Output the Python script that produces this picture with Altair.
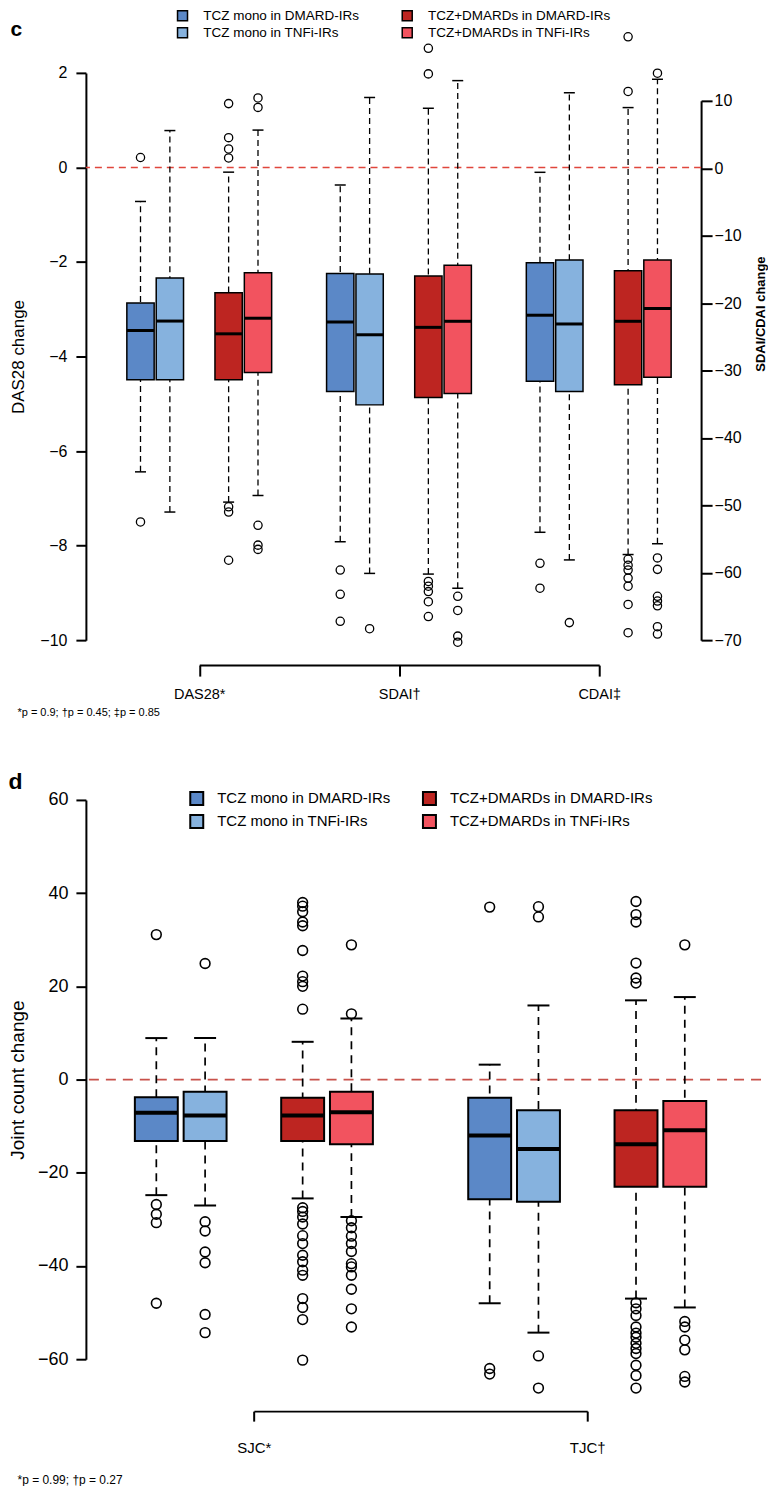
import altair as alt
import pandas as pd

# ---------------- data ----------------
GROUPS = ["TCZ mono in DMARD-IRs", "TCZ mono in TNFi-IRs",
          "TCZ+DMARDs in DMARD-IRs", "TCZ+DMARDs in TNFi-IRs"]
GROUP_COLORS = ["#5B88C7", "#86B2DE", "#BD2521", "#F2535F"]
SLOTS = [GROUPS[0], GROUPS[1], "gap", GROUPS[2], GROUPS[3]]

# panel c  (DAS28 on left axis, SDAI / CDAI on right axis)
C_METRICS = ["DAS28", "SDAI", "CDAI"]
C_BRACKET = ["DAS28*", "SDAI\u2020", "CDAI\u2021"]
C_WLO = [-6.44, -7.29, -7.08, -6.94, -55.4, -60.1, -60.2, -62.3, -54.0, -58.1, -57.3, -55.7]
C_Q1 = [-4.49, -4.49, -4.49, -4.34, -33.1, -35.1, -34.0, -33.4, -31.6, -33.1, -32.1, -31.0]
C_MED = [-3.45, -3.25, -3.52, -3.19, -22.8, -24.7, -23.6, -22.7, -21.8, -23.1, -22.7, -20.8]
C_Q3 = [-2.87, -2.34, -2.65, -2.23, -15.6, -15.7, -16.0, -14.4, -14.0, -13.6, -15.2, -13.6]
C_WHI = [-0.72, 0.78, -0.10, 0.79, -2.5, 10.5, 8.9, 13.0, -0.6, 11.2, 9.0, 13.2]
C_OUT = [
    [0.21, -7.5], [], [1.35, 0.63, 0.39, 0.2, -7.18, -7.29, -8.31], [1.47, 1.27, -7.57, -7.99, -8.08],
    [-59.6, -63.2, -67.2], [-68.3], [17.8, 14.0, -61.3, -62.0, -62.8, -64.3, -66.5], [-63.5, -65.6, -69.4, -70.3],
    [-58.6, -62.3], [-67.4], [19.5, 11.4, -58.0, -58.9, -59.6, -60.8, -62.0, -64.7, -68.9],
    [14.1, -57.8, -59.5, -63.5, -64.2, -64.9, -68.0, -69.1],
]
C_LEFT_TICKS = [-10, -8, -6, -4, -2, 0, 2]
C_RIGHT_TICKS = [-70, -60, -50, -40, -30, -20, -10, 0, 10]
C_FOOT = "*p = 0.9; \u2020p = 0.45; \u2021p = 0.85"

# panel d
D_METRICS = ["SJC", "TJC"]
D_BRACKET = ["SJC*", "TJC\u2020"]
D_WLO = [-24.8, -27.0, -25.5, -29.5, -48.0, -54.3, -47.0, -48.9]
D_Q1 = [-13.2, -13.2, -13.2, -13.9, -25.7, -26.2, -23.0, -23.0]
D_MED = [-7.1, -7.7, -7.7, -7.0, -12.0, -14.9, -13.9, -10.9]
D_Q3 = [-3.8, -2.6, -3.9, -2.6, -3.9, -6.6, -6.6, -4.6]
D_WHI = [8.9, 8.9, 8.1, 13.1, 3.2, 15.9, 17.0, 17.7]
D_OUT = [
    [31.1, -26.8, -28.9, -30.7, -48.0],
    [24.9, -30.5, -32.5, -37.0, -39.3, -50.4, -54.3],
    [38.0, 37.2, 36.0, 33.8, 33.0, 27.7, 22.2, 21.0, 20.0, 15.1,
     -27.5, -28.3, -29.5, -31.0, -33.5, -35.2, -37.7, -39.1, -40.9, -42.0, -47.0, -48.9, -51.5, -60.2],
    [28.9, 14.1, -30.3, -31.8, -33.6, -35.2, -36.9, -39.5, -40.2, -42.0, -45.0, -49.2, -53.1],
    [37.0, -62.0, -63.2],
    [37.1, 34.9, -59.3, -66.2],
    [38.2, 35.4, 33.8, 25.0, 21.8, 20.7,
     -47.9, -49.2, -50.6, -53.1, -54.4, -55.3, -56.6, -57.7, -58.8, -61.3, -63.5, -66.2],
    [28.9, -51.9, -53.1, -55.9, -58.0, -63.7, -64.9],
]
D_TICKS = [-60, -40, -20, 0, 20, 40, 60]
D_FOOT = "*p = 0.99; \u2020p = 0.27"

ZERO = [0]
FONT = "Liberation Sans"


def stats_frame(metrics, wlo, q1, med, q3, whi):
    rows = []
    for i, m in enumerate(metrics):
        for j, g in enumerate(GROUPS):
            k = i * 4 + j
            rows.append(dict(metric=m, group=g, wlo=wlo[k], q1=q1[k], med=med[k], q3=q3[k], whi=whi[k]))
    return pd.DataFrame(rows)


def outlier_frame(metrics, outs):
    rows = []
    for i, m in enumerate(metrics):
        for j, g in enumerate(GROUPS):
            for v in outs[i * 4 + j]:
                rows.append(dict(metric=m, group=g, value=v))
    return pd.DataFrame(rows)


def box_layers(stats, outs, x, xo, yscale, yaxis, fill, st):
    def Y(f):
        return alt.Y(f, type="quantitative", scale=yscale, axis=yaxis)

    base = alt.Chart(stats)
    whisk = base.mark_rule(color="black", strokeWidth=st["wl"], strokeDash=st["dash"]).encode(
        x=x, xOffset=xo, y=Y("wlo"), y2=alt.Y2("whi"))
    cap_hi = base.mark_tick(color="black", size=st["cap"], thickness=st["capw"], opacity=1).encode(
        x=x, xOffset=xo, y=Y("whi"))
    cap_lo = base.mark_tick(color="black", size=st["cap"], thickness=st["capw"], opacity=1).encode(
        x=x, xOffset=xo, y=Y("wlo"))
    box = base.mark_bar(stroke="black", strokeWidth=st["bw"], opacity=1).encode(
        x=x, xOffset=xo, y=Y("q3"), y2=alt.Y2("q1"), fill=fill)
    med = base.mark_tick(color="black", size=st["medw"], thickness=st["medt"], opacity=1).encode(
        x=x, xOffset=xo, y=Y("med"))
    pts = alt.Chart(outs).mark_point(shape="circle", filled=False, color="black", size=st["ps"],
                                     strokeWidth=st["pw"], opacity=1).encode(
        x=x, xOffset=xo, y=Y("value"))
    return [whisk, cap_hi, cap_lo, box, med, pts]


color_scale = alt.Scale(domain=GROUPS, range=GROUP_COLORS)

# ---------------- panel c ----------------
st_c = dict(wl=1.3, dash=[6, 4], cap=11, capw=1.5, bw=1.5, medw=27, medt=3, ps=68, pw=1.3)

legend_c = alt.Legend(title=None, orient="none", legendX=90, legendY=-64, columns=2,
                      columnPadding=39, rowPadding=0, symbolType="square", symbolSize=100,
                      symbolStrokeColor="black", symbolStrokeWidth=1.5, labelFontSize=13.5,
                      labelFont=FONT, labelOffset=14, labelLimit=400, padding=0)
fill_c = alt.Fill("group:N", scale=color_scale, legend=legend_c)

xo_c = alt.XOffset("group:N", scale=alt.Scale(domain=SLOTS, paddingInner=0.07, paddingOuter=0))
xscale_c = alt.Scale(type="band", domain=C_METRICS, range=[13.5, 613.5], paddingInner=0.275, paddingOuter=0.1375)
xA = alt.X("metric:N", scale=xscale_c,
           axis=alt.Axis(orient="top", labels=False, ticks=False, domain=False, title="c",
                         titleX=-76, titleY=-37, titleAlign="left", titleBaseline="alphabetic",
                         titleFontSize=21, titleFontWeight="bold", titleAngle=0))
xB = alt.X("metric:N", scale=xscale_c, axis=None)

yL_scale = alt.Scale(domain=[-10, 2], nice=False, zero=False)
yL_axis = alt.Axis(orient="left", values=C_LEFT_TICKS, title="DAS28 change", titleFontSize=17,
                   titleFontWeight="normal", labelFontSize=16, tickSize=10, tickWidth=2, domainWidth=2,
                   labelPadding=9, titlePadding=12, grid=False)
yR_scale = alt.Scale(domain=[-70, 10], range=[568, 28], nice=False, zero=False)
yR_axis = alt.Axis(orient="right", values=C_RIGHT_TICKS, title="SDAI/CDAI change", titleFontSize=13,
                   titleFontWeight="bold", titleAngle=-90, titleBaseline="top", titleAlign="center",
                   titleY=241, labelFontSize=16, tickSize=11, tickWidth=2, domainWidth=2,
                   labelPadding=2, titlePadding=13, grid=False)

stats_c = stats_frame(C_METRICS, C_WLO, C_Q1, C_MED, C_Q3, C_WHI)
outs_c = outlier_frame(C_METRICS, C_OUT)

zero_c = alt.Chart(pd.DataFrame({"z": ZERO})).mark_rule(
    color="#E0463C", strokeDash=[7, 5], strokeWidth=1.4).encode(
    y=alt.Y("z:Q", scale=yL_scale, axis=yL_axis))

layer_A = alt.layer(zero_c, *box_layers(stats_c[stats_c.metric == "DAS28"], outs_c[outs_c.metric == "DAS28"],
                                        xA, xo_c, yL_scale, yL_axis, fill_c, st_c))
layer_B = alt.layer(*box_layers(stats_c[stats_c.metric != "DAS28"], outs_c[outs_c.metric != "DAS28"],
                                xB, xo_c, yR_scale, yR_axis, fill_c, st_c))

bracket_c = alt.Chart(pd.DataFrame({"label": C_BRACKET})).mark_point(opacity=0).encode(
    x=alt.X("label:N",
            scale=alt.Scale(type="point", domain=C_BRACKET, range=[113.5, 514], padding=0),
            axis=alt.Axis(orient="bottom", offset=25, domainWidth=2, tickSize=11, tickWidth=2,
                          labelFontSize=14.5, labelPadding=11, labelAngle=0, grid=False,
                          title=C_FOOT, titleX=-69, titleY=47, titleAlign="left",
                          titleBaseline="middle", titleFontSize=11, titleFontWeight="normal")))

panel_c = alt.layer(layer_A, layer_B, bracket_c).resolve_scale(
    x="independent", y="independent").properties(width=616, height=568)

# ---------------- panel d ----------------
st_d = dict(wl=1.7, dash=[8, 6], cap=22, capw=2, bw=2, medw=43, medt=4, ps=95, pw=1.6)

legend_d = alt.Legend(title=None, orient="none", legendX=103.5, legendY=-9, columns=2,
                      columnPadding=28, rowPadding=2, symbolType="square", symbolSize=169,
                      symbolStrokeColor="black", symbolStrokeWidth=2, labelFontSize=15,
                      labelFont=FONT, labelOffset=13, labelLimit=400, padding=0)
fill_d = alt.Fill("group:N", scale=color_scale, legend=legend_d)

xo_d = alt.XOffset("group:N", scale=alt.Scale(domain=SLOTS, paddingInner=0.12, paddingOuter=0))
xD = alt.X("metric:N",
           scale=alt.Scale(type="band", domain=D_METRICS, range=[1.3, 668.9], paddingInner=0.286, paddingOuter=0.143),
           axis=alt.Axis(orient="top", labels=False, ticks=False, domain=False, title="d",
                         titleX=-78, titleY=-11, titleAlign="left", titleBaseline="alphabetic",
                         titleFontSize=23, titleFontWeight="bold", titleAngle=0))
yD_scale = alt.Scale(domain=[-60, 60], nice=False, zero=False)
yD_axis = alt.Axis(orient="left", values=D_TICKS, title="Joint count change", titleFontSize=19,
                   titleFontWeight="normal", labelFontSize=18, tickSize=10, tickWidth=2, domainWidth=2,
                   labelPadding=8, titlePadding=10, grid=False)

stats_d = stats_frame(D_METRICS, D_WLO, D_Q1, D_MED, D_Q3, D_WHI)
outs_d = outlier_frame(D_METRICS, D_OUT)

zero_d = alt.Chart(pd.DataFrame({"z": ZERO})).mark_rule(
    color="#C8514A", strokeDash=[10, 7], strokeWidth=1.8).encode(
    y=alt.Y("z:Q", scale=yD_scale, axis=yD_axis))

layer_D = alt.layer(zero_d, *box_layers(stats_d, outs_d, xD, xo_d, yD_scale, yD_axis, fill_d, st_d))

bracket_d = alt.Chart(pd.DataFrame({"label": D_BRACKET})).mark_point(opacity=0).encode(
    x=alt.X("label:N",
            scale=alt.Scale(type="point", domain=D_BRACKET, range=[168.2, 502], padding=0),
            axis=alt.Axis(orient="bottom", offset=52, domainWidth=2, tickSize=10, tickWidth=2,
                          labelFontSize=15, labelPadding=19, labelAngle=0, grid=False,
                          title=D_FOOT, titleX=-69, titleY=68, titleAlign="left",
                          titleBaseline="middle", titleFontSize=12, titleFontWeight="normal")))

panel_d = alt.layer(layer_D, bracket_d).resolve_scale(
    x="independent", y="independent").properties(width=676, height=560)

chart = alt.vconcat(panel_c, panel_d, spacing=54, padding=0).resolve_scale(
    fill="independent", xOffset="independent").resolve_legend(fill="independent").configure(
    font=FONT).configure_view(stroke=None).configure_axis(
    grid=False, domainColor="black", tickColor="black", labelColor="black", titleColor="black",
    labelFont=FONT, titleFont=FONT).configure_legend(labelColor="black")

chart.save("out.html", embed_options={"renderer": "svg", "actions": False})
